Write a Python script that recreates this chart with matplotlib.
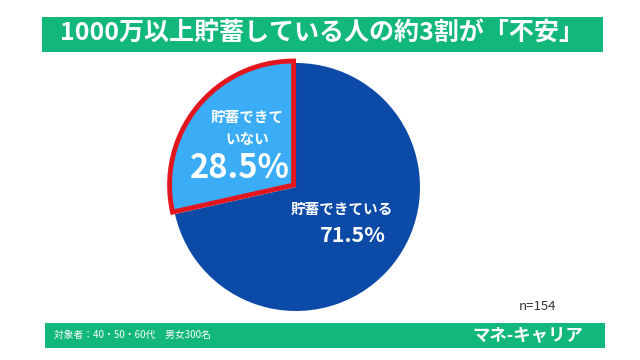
import matplotlib.pyplot as plt

plt.rcParams['font.family'] = ['Noto Sans CJK JP', 'DejaVu Sans']

title = '1000万以上貯蓄している人の約3割が「不安」'
labels = ['貯蓄できて\nいない', '貯蓄できている']
values = [28.5, 71.5]
colors = ['#3badf7', '#0b4aa6']
n_note = 'n=154'
footer = '対象者：40・50・60代　男女300名'
brand = 'マネ-キャリア'

W, H = 640, 360
green = '#12b77c'

fig = plt.figure(figsize=(W / 100, H / 100), dpi=100)
fig.patch.set_facecolor('white')

def px(x, y):
    return x / W, 1 - y / H

# title bar
fig.patches.append(plt.Rectangle(px(42, 52), 561 / W, 35 / H, transform=fig.transFigure,
                                 facecolor=green, edgecolor='none'))
fig.text(*px(322, 34), title, color='white', fontsize=18, fontweight='bold',
         ha='center', va='center')

# footer bar
fig.patches.append(plt.Rectangle(px(45, 348), 560 / W, 25 / H, transform=fig.transFigure,
                                 facecolor=green, edgecolor='none'))
fig.text(*px(54, 335), footer, color='white', fontsize=7, ha='left', va='center')
fig.text(*px(583, 335), brand, color='white', fontsize=12.5, fontweight='bold',
         ha='right', va='center')
fig.text(*px(537, 307), n_note, color='#333333', fontsize=9.5, ha='center', va='center')

# pie
cx, cy, r = 296, 187, 124
ax = fig.add_axes([(cx - r) / W, (H - cy - r) / H, 2 * r / W, 2 * r / H])
wedges, _ = ax.pie(values, colors=colors, startangle=90, counterclock=True,
                   explode=[0.025, 0], radius=1)
wedges[0].set_edgecolor('#e3161d')
wedges[0].set_linewidth(3.5)
wedges[0].set_joinstyle('miter')
wedges[0].set_zorder(3)
ax.set_xlim(-1, 1)
ax.set_ylim(-1, 1)
ax.set_aspect('equal')
ax.axis('off')

fig.text(*px(247, 128), labels[0], color='white', fontsize=10.5, fontweight='bold',
         ha='center', va='center', linespacing=1.4)
fig.text(*px(240, 168), f'{values[0]}%', color='white', fontsize=23.5, fontweight='bold',
         ha='center', va='center')
fig.text(*px(342, 209), labels[1], color='white', fontsize=10.5, fontweight='bold',
         ha='center', va='center')
fig.text(*px(353, 236), f'{values[1]}%', color='white', fontsize=15.5, fontweight='bold',
         ha='center', va='center')

fig.savefig('out.png', dpi=100)
